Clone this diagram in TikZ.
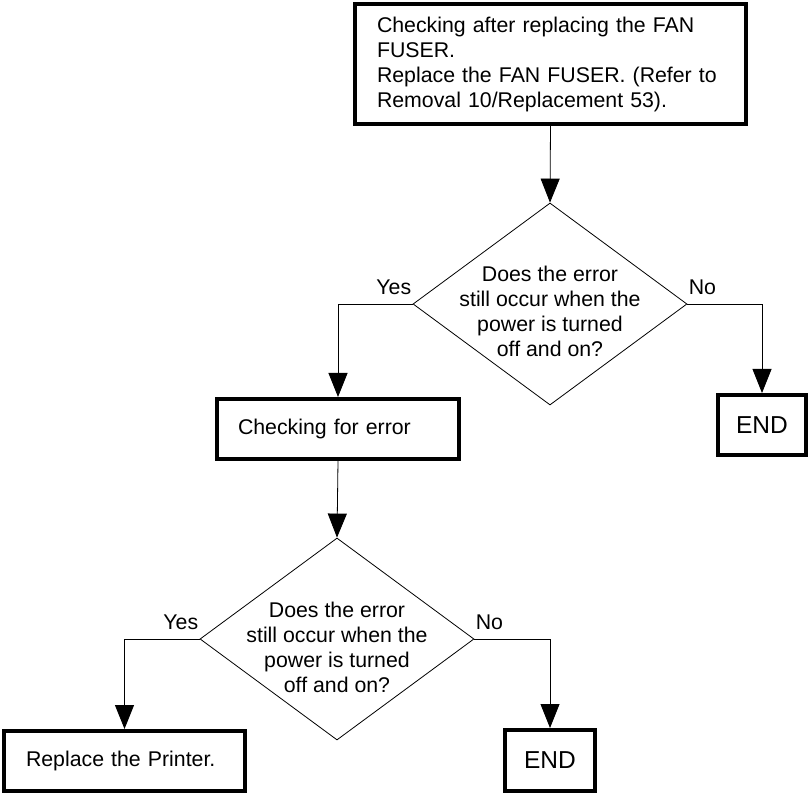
\documentclass[tikz,border=0pt]{standalone}
\usepackage{fontspec}
\setmainfont{Liberation Sans}
\usetikzlibrary{arrows.meta,shapes.geometric}
\tikzset{
  base/.style={font=\fontsize{21.3}{25}\selectfont},
  box/.style={base,draw,line width=4pt,rectangle,align=left,inner ysep=0pt},
  endbox/.style={draw,line width=4pt,rectangle,align=center,inner sep=0pt,font=\fontsize{24.5}{28}\selectfont},
  dia/.style={draw,line width=0.8pt,diamond,shape aspect=1.35,minimum width=274pt,minimum height=202pt,inner sep=0pt},
  dtext/.style={base,align=center},
  yn/.style={base,inner xsep=1pt,inner ysep=9pt},
  flow/.style={line width=0.8pt,-{Triangle[length=24pt,width=19pt]}}
}
\begin{document}
\begin{tikzpicture}[x=1pt,y=-1pt]
\useasboundingbox (0,0) rectangle (809,794);
\node[box,inner xsep=22pt,text width=347pt,minimum height=120pt] (b1) at (550.5,64)
  {Checking after replacing the FAN\\FUSER.\\Replace the FAN FUSER. (Refer to\\Removal 10/Replacement 53).};
\node[dia,label={[dtext,yshift=-7pt]center:Does the error\\still occur when the\\power is turned\\off and on?}] (d1) at (550,304) {};
\node[box,inner xsep=21pt,text width=200pt,minimum height=60pt] (b2) at (338,429) {Checking for error};
\node[endbox,minimum width=88pt,minimum height=60pt] (e1) at (762,425) {END};
\node[dia,label={[dtext,yshift=-8pt]center:Does the error\\still occur when the\\power is turned\\off and on?}] (d2) at (337,639) {};
\node[box,inner xsep=22pt,text width=197pt,minimum height=60pt] (b3) at (124.5,761) {Replace the Printer.};
\node[endbox,minimum width=90pt,minimum height=61pt] (e2) at (550,760.5) {END};

\draw[flow] (b1.south) -- (d1.north);
\draw[flow] (d1.west) node[yn,anchor=south east] {Yes} -| (b2.north);
\draw[flow] (d1.east) node[yn,anchor=south west] {No} -| (e1.north);
\draw[flow] (b2.south) -- (d2.north);
\draw[flow] (d2.west) node[yn,anchor=south east] {Yes} -| (b3.north);
\draw[flow] (d2.east) node[yn,anchor=south west] {No} -| (e2.north);
\end{tikzpicture}
\end{document}
